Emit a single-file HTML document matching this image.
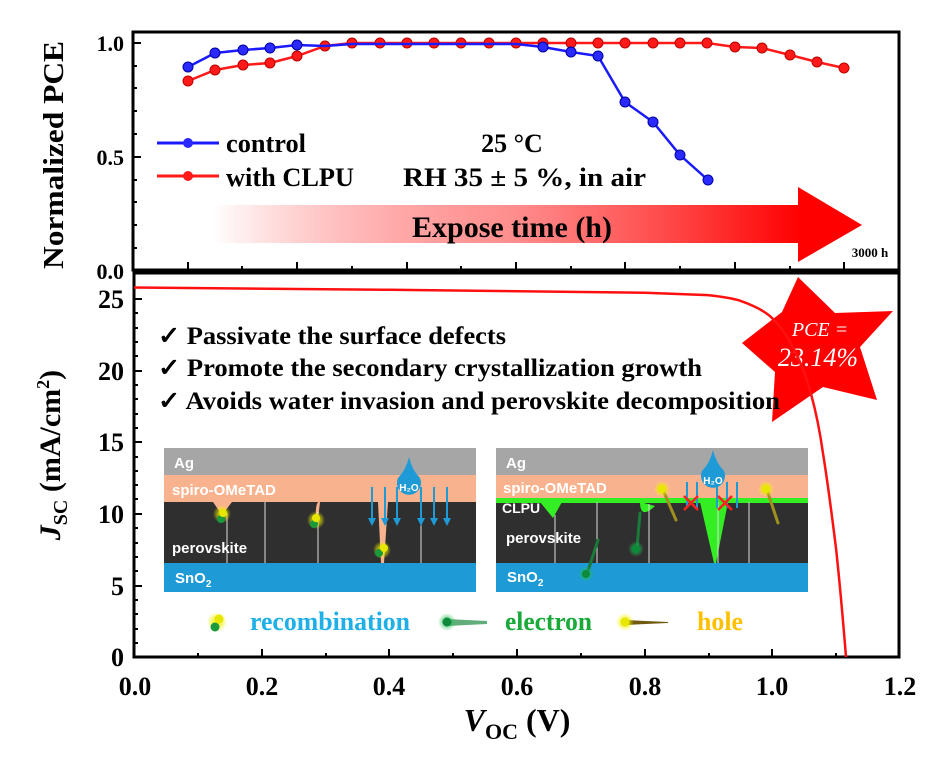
<!DOCTYPE html>
<html><head><meta charset="utf-8"><style>
html,body{margin:0;padding:0;background:#fff;}
svg{display:block;}
text{font-family:"Liberation Serif",serif;font-weight:bold;}
.s{font-family:"Liberation Sans","DejaVu Sans",sans-serif;font-weight:bold;fill:#fff;}
</style></head><body>
<svg width="941" height="771" viewBox="0 0 941 771" xmlns="http://www.w3.org/2000/svg">
<defs>
<linearGradient id="ag" x1="0" x2="1" y1="0" y2="0">
<stop offset="0" stop-color="#ff0000" stop-opacity="0"/>
<stop offset="0.5" stop-color="#ff6060" stop-opacity="0.7"/>
<stop offset="1" stop-color="#ff0000"/>
</linearGradient>
<radialGradient id="yg"><stop offset="0" stop-color="#ffff00"/><stop offset="0.5" stop-color="#eeee00" stop-opacity="0.6"/><stop offset="1" stop-color="#ffff00" stop-opacity="0"/></radialGradient>
<radialGradient id="gg"><stop offset="0" stop-color="#0a8a3a"/><stop offset="0.5" stop-color="#20c050" stop-opacity="0.5"/><stop offset="1" stop-color="#20c050" stop-opacity="0"/></radialGradient>
</defs>

<!-- TOP PANEL -->
<rect x="133" y="32" width="766" height="238" fill="none" stroke="#000" stroke-width="3"/>
<g stroke="#000" stroke-width="2">
<line x1="133" y1="43" x2="141" y2="43"/><line x1="133" y1="157" x2="141" y2="157"/>
<line x1="133" y1="66" x2="137" y2="66"/><line x1="133" y1="88" x2="137" y2="88"/><line x1="133" y1="111" x2="137" y2="111"/><line x1="133" y1="134" x2="137" y2="134"/>
<line x1="133" y1="180" x2="137" y2="180"/><line x1="133" y1="202" x2="137" y2="202"/><line x1="133" y1="225" x2="137" y2="225"/><line x1="133" y1="248" x2="137" y2="248"/>
<line x1="188" y1="270" x2="188" y2="262"/><line x1="297" y1="270" x2="297" y2="262"/><line x1="407" y1="270" x2="407" y2="262"/><line x1="516" y1="270" x2="516" y2="262"/><line x1="625" y1="270" x2="625" y2="262"/><line x1="735" y1="270" x2="735" y2="262"/><line x1="844" y1="270" x2="844" y2="262"/>
<line x1="242" y1="270" x2="242" y2="266"/><line x1="352" y1="270" x2="352" y2="266"/><line x1="461" y1="270" x2="461" y2="266"/><line x1="571" y1="270" x2="571" y2="266"/><line x1="680" y1="270" x2="680" y2="266"/><line x1="790" y1="270" x2="790" y2="266"/>
</g>
<text x="124" y="51" font-size="22" text-anchor="end">1.0</text>
<text x="124" y="165" font-size="22" text-anchor="end">0.5</text>
<text x="124" y="279" font-size="22" text-anchor="end">0.0</text>
<text transform="translate(63,155) rotate(-90)" font-size="28" text-anchor="middle" textLength="228" lengthAdjust="spacingAndGlyphs">Normalized PCE</text>

<!-- arrow -->
<rect x="212" y="205" width="588" height="38" fill="url(#ag)"/>
<polygon points="798,187 862,225 798,262" fill="#ff0000"/>
<text x="512" y="237" font-size="30" text-anchor="middle">Expose time (h)</text>
<text x="870" y="257" font-size="13" text-anchor="middle">3000 h</text>

<!-- data -->
<polyline fill="none" stroke="#ff1a1a" stroke-width="2.5" points="188,81 215,70 243,65 270,63 297,56 325,46 352,43 380,43 407,43 434,43 461,43 489,43 516,43 543,43 571,43 598,43 625,43 653,43 680,43 707,43 735,47 762,48 790,55 817,62 844,68"/>
<g fill="#ff1a1a" stroke="#b00" stroke-width="1">
<circle cx="188" cy="81" r="5"/><circle cx="215" cy="70" r="5"/><circle cx="243" cy="65" r="5"/><circle cx="270" cy="63" r="5"/><circle cx="297" cy="56" r="5"/><circle cx="325" cy="46" r="5"/><circle cx="352" cy="43" r="5"/><circle cx="380" cy="43" r="5"/><circle cx="407" cy="43" r="5"/><circle cx="434" cy="43" r="5"/><circle cx="461" cy="43" r="5"/><circle cx="489" cy="43" r="5"/><circle cx="516" cy="43" r="5"/><circle cx="543" cy="43" r="5"/><circle cx="571" cy="43" r="5"/><circle cx="598" cy="43" r="5"/><circle cx="625" cy="43" r="5"/><circle cx="653" cy="43" r="5"/><circle cx="680" cy="43" r="5"/><circle cx="707" cy="43" r="5"/><circle cx="735" cy="47" r="5"/><circle cx="762" cy="48" r="5"/><circle cx="790" cy="55" r="5"/><circle cx="817" cy="62" r="5"/><circle cx="844" cy="68" r="5"/>
</g>
<polyline fill="none" stroke="#1a1aff" stroke-width="2.5" points="188,67 215,53 243,50 270,48 297,45 325,46 352,44 380,44 407,44 434,44 461,44 489,44 516,44 543,47 571,52 598,56 625,102 653,122 680,155 708,180"/>
<g fill="#2a2aff" stroke="#0000a0" stroke-width="1">
<circle cx="188" cy="67" r="5"/><circle cx="215" cy="53" r="5"/><circle cx="243" cy="50" r="5"/><circle cx="270" cy="48" r="5"/><circle cx="297" cy="45" r="5"/><circle cx="543" cy="47" r="5"/><circle cx="571" cy="52" r="5"/><circle cx="598" cy="56" r="5"/><circle cx="625" cy="102" r="5"/><circle cx="653" cy="122" r="5"/><circle cx="680" cy="155" r="5"/><circle cx="708" cy="180" r="5"/>
</g>
<!-- legend -->
<line x1="157" y1="143" x2="219" y2="143" stroke="#1a1aff" stroke-width="3"/><circle cx="188" cy="143" r="5" fill="#2a2aff"/>
<line x1="157" y1="176" x2="219" y2="176" stroke="#ff1a1a" stroke-width="3"/><circle cx="188" cy="176" r="5" fill="#ff1a1a"/>
<text x="226" y="152" font-size="26" textLength="80" lengthAdjust="spacingAndGlyphs">control</text>
<text x="226" y="186" font-size="26" textLength="128" lengthAdjust="spacingAndGlyphs">with CLPU</text>
<text x="512" y="152" font-size="26" text-anchor="middle">25 °C</text>
<text x="403" y="186" font-size="26" textLength="243" lengthAdjust="spacingAndGlyphs">RH 35 ± 5 %, in air</text>

<!-- BOTTOM PANEL -->
<rect x="134" y="273" width="765" height="384" fill="none" stroke="#000" stroke-width="3"/>
<g stroke="#000" stroke-width="2">
<line x1="134" y1="299" x2="142" y2="299"/><line x1="134" y1="371" x2="142" y2="371"/><line x1="134" y1="442" x2="142" y2="442"/><line x1="134" y1="514" x2="142" y2="514"/><line x1="134" y1="586" x2="142" y2="586"/>
<line x1="134" y1="328" x2="138" y2="328"/><line x1="134" y1="342" x2="138" y2="342"/><line x1="134" y1="356" x2="138" y2="356"/><line x1="134" y1="385" x2="138" y2="385"/><line x1="134" y1="399" x2="138" y2="399"/><line x1="134" y1="414" x2="138" y2="414"/><line x1="134" y1="428" x2="138" y2="428"/><line x1="134" y1="457" x2="138" y2="457"/><line x1="134" y1="471" x2="138" y2="471"/><line x1="134" y1="485" x2="138" y2="485"/><line x1="134" y1="499" x2="138" y2="499"/><line x1="134" y1="528" x2="138" y2="528"/><line x1="134" y1="543" x2="138" y2="543"/><line x1="134" y1="557" x2="138" y2="557"/><line x1="134" y1="571" x2="138" y2="571"/><line x1="134" y1="600" x2="138" y2="600"/><line x1="134" y1="614" x2="138" y2="614"/><line x1="134" y1="629" x2="138" y2="629"/><line x1="134" y1="643" x2="138" y2="643"/><line x1="134" y1="313" x2="138" y2="313"/>
<line x1="262" y1="657" x2="262" y2="649"/><line x1="389" y1="657" x2="389" y2="649"/><line x1="517" y1="657" x2="517" y2="649"/><line x1="645" y1="657" x2="645" y2="649"/><line x1="772" y1="657" x2="772" y2="649"/>
<line x1="198" y1="657" x2="198" y2="653"/><line x1="326" y1="657" x2="326" y2="653"/><line x1="453" y1="657" x2="453" y2="653"/><line x1="581" y1="657" x2="581" y2="653"/><line x1="709" y1="657" x2="709" y2="653"/><line x1="836" y1="657" x2="836" y2="653"/>
</g>
<g font-size="26" text-anchor="end">
<text x="124" y="308">25</text><text x="124" y="380">20</text><text x="124" y="451">15</text><text x="124" y="523">10</text><text x="124" y="595">5</text><text x="124" y="666">0</text>
</g>
<g font-size="26" text-anchor="middle">
<text x="135" y="695">0.0</text><text x="262" y="695">0.2</text><text x="389" y="695">0.4</text><text x="517" y="695">0.6</text><text x="645" y="695">0.8</text><text x="772" y="695">1.0</text><text x="900" y="695">1.2</text>
</g>
<text x="517" y="731" font-size="32" text-anchor="middle"><tspan font-style="italic">V</tspan><tspan font-size="22" dy="8">OC</tspan><tspan dy="-8"> (V)</tspan></text>
<text transform="translate(60,455) rotate(-90)" font-size="30" text-anchor="middle"><tspan font-style="italic">J</tspan><tspan font-size="20" dy="7">SC</tspan><tspan dy="-7"> (mA/cm</tspan><tspan font-size="18" dy="-11">2</tspan><tspan dy="11">)</tspan></text>

<!-- star -->
<polygon points="798,277 835,313 893,311 860,347 877,400 823,387 772,422 775,372 742,343 782,312" fill="#ff0000"/>
<text x="820" y="336" font-size="20" fill="#fff" font-style="italic" text-anchor="middle" style="font-weight:normal">PCE =</text>
<text x="818" y="366" font-size="26" fill="#fff" font-style="italic" text-anchor="middle" style="font-weight:normal">23.14%</text>

<!-- JV curve -->
<path d="M134,287.5 L389,289.8 L645,292.7 L708,295.1 C725,297 735,299 740,300.7 C755,306 765,311 772,318 C780,326 786,334 791,343.4 C800,360 806,376 811,393.8 C816,412 820,432 823,453.4 C828,484 832,516 836,548.2 C840,585 843,620 846,657" fill="none" stroke="#ff1010" stroke-width="2.5"/>

<!-- check lines -->
<g font-size="25">
<text x="158" y="344" textLength="348" lengthAdjust="spacingAndGlyphs">✓ Passivate the surface defects</text>
<text x="158" y="376" textLength="544" lengthAdjust="spacingAndGlyphs">✓ Promote the secondary crystallization growth</text>
<text x="158" y="409" textLength="622" lengthAdjust="spacingAndGlyphs">✓ Avoids water invasion and perovskite decomposition</text>
</g>

<!-- left schematic -->
<rect x="164" y="448" width="312" height="27" fill="#a6a6a6"/>
<rect x="164" y="475" width="312" height="28" fill="#f8b38e"/>
<rect x="164" y="502" width="312" height="61" fill="#2f2f2f"/>
<rect x="164" y="563" width="312" height="29" fill="#1e9ad6"/>
<path d="M213,502 L222,515 L232,502 Z" fill="#f8b38e"/>
<path d="M318,502 Q315,506 316,520 L318,520 L320,502 Z" fill="#f8b38e"/>
<path d="M378,502 L381,563 L384,563 L388,502 Z" fill="#f8b38e"/>
<g stroke="#ddd" stroke-width="1" fill="none">
<line x1="227" y1="513" x2="227" y2="563"/><line x1="265" y1="502" x2="265" y2="563"/><line x1="318" y1="512" x2="318" y2="563"/><line x1="421" y1="502" x2="421" y2="563"/>
</g>
<text x="174" y="468" font-size="15" class="s">Ag</text>
<text x="172" y="495" font-size="15" class="s">spiro-OMeTAD</text>
<text x="172" y="553" font-size="15" class="s">perovskite</text>
<text x="175" y="583" font-size="15" class="s">SnO<tspan font-size="10" dy="4">2</tspan></text>
<g stroke="#1e9ad6" stroke-width="2" fill="#1e9ad6">
<line x1="372" y1="487" x2="372" y2="520"/><line x1="385" y1="487" x2="385" y2="520"/><line x1="397" y1="487" x2="397" y2="520"/><line x1="421" y1="487" x2="421" y2="520"/><line x1="434" y1="487" x2="434" y2="520"/><line x1="447" y1="487" x2="447" y2="520"/>
</g>
<g fill="#1e9ad6">
<polygon points="368,518 376,518 372,526"/><polygon points="381,518 389,518 385,526"/><polygon points="393,518 401,518 397,526"/><polygon points="417,518 425,518 421,526"/><polygon points="430,518 438,518 434,526"/><polygon points="443,518 451,518 447,526"/>
<path d="M409,457 Q412,470 420,478 A12,12 0 1 1 398,478 Q406,470 409,457 Z"/>
</g>
<text x="409" y="491" font-size="10" class="s" text-anchor="middle">H₂O</text>
<g>
<circle cx="222" cy="514" r="9" fill="url(#yg)"/><circle cx="221" cy="519" r="4" fill="#1a9a3a"/><circle cx="223" cy="513" r="4" fill="#e6e600"/>
<circle cx="316" cy="520" r="9" fill="url(#yg)"/><circle cx="314" cy="524" r="4" fill="#1a9a3a"/><circle cx="316" cy="518" r="4" fill="#e6e600"/>
<circle cx="382" cy="550" r="9" fill="url(#yg)"/><circle cx="379" cy="553" r="4" fill="#1a9a3a"/><circle cx="384" cy="548" r="4" fill="#e6e600"/>
</g>

<!-- right schematic -->
<rect x="496" y="448" width="312" height="27" fill="#a6a6a6"/>
<rect x="496" y="475" width="312" height="25" fill="#f8b38e"/>
<rect x="496" y="502" width="312" height="61" fill="#2f2f2f"/>
<rect x="496" y="498" width="312" height="5" fill="#33ee22"/>
<path d="M540,502 L553,518 L562,502 Z" fill="#33ee22"/>
<path d="M640,502 Q640,520 655,506 L640,502 Z" fill="#33ee22"/>
<path d="M700,502 L714,563 L716,563 L728,502 Z" fill="#33ee22"/>
<rect x="496" y="563" width="312" height="29" fill="#1e9ad6"/>
<g stroke="#ddd" stroke-width="1" fill="none">
<line x1="555" y1="515" x2="555" y2="563"/><line x1="597" y1="502" x2="597" y2="563"/><line x1="649" y1="504" x2="649" y2="563"/><line x1="718" y1="502" x2="718" y2="563"/><line x1="749" y1="502" x2="749" y2="563"/>
</g>
<text x="506" y="468" font-size="15" class="s">Ag</text>
<text x="503" y="493" font-size="15" class="s">spiro-OMeTAD</text>
<text x="502" y="513" font-size="14" class="s">CLPU</text>
<text x="506" y="543" font-size="15" class="s">perovskite</text>
<text x="507" y="582" font-size="15" class="s">SnO<tspan font-size="10" dy="4">2</tspan></text>
<g stroke="#1e9ad6" stroke-width="2">
<line x1="687" y1="482" x2="687" y2="508"/><line x1="697" y1="482" x2="697" y2="508"/><line x1="717" y1="482" x2="717" y2="508"/><line x1="727" y1="482" x2="727" y2="508"/><line x1="737" y1="482" x2="737" y2="508"/>
</g>
<g fill="#1e9ad6">
<path d="M713,450 Q716,463 724,471 A12,12 0 1 1 702,471 Q710,463 713,450 Z"/>
</g>
<text x="713" y="484" font-size="10" class="s" text-anchor="middle">H₂O</text>
<g stroke="#ff2020" stroke-width="2.5">
<line x1="684" y1="496" x2="698" y2="510"/><line x1="698" y1="496" x2="684" y2="510"/>
<line x1="718" y1="496" x2="732" y2="510"/><line x1="732" y1="496" x2="718" y2="510"/>
</g>
<g stroke-width="3" stroke-linecap="round">
<line x1="663" y1="490" x2="676" y2="520" stroke="#a09020"/>
<line x1="767" y1="490" x2="778" y2="523" stroke="#a09020"/>
<line x1="587" y1="574" x2="598" y2="540" stroke="#1a7a3a"/>
<line x1="637" y1="548" x2="640" y2="513" stroke="#1a7a3a"/>
</g>
<circle cx="662" cy="489" r="8" fill="url(#yg)"/><circle cx="662" cy="489" r="4" fill="#e6e600"/>
<circle cx="766" cy="489" r="8" fill="url(#yg)"/><circle cx="766" cy="489" r="4" fill="#e6e600"/>
<circle cx="586" cy="574" r="8" fill="url(#gg)"/><circle cx="586" cy="574" r="4" fill="#0d8a3a"/>
<circle cx="636" cy="549" r="8" fill="url(#gg)"/><circle cx="636" cy="549" r="4" fill="#0d8a3a"/>

<!-- bottom legend -->
<circle cx="217" cy="622" r="10" fill="url(#yg)"/><circle cx="215" cy="627" r="4.5" fill="#1a9a3a"/><circle cx="219" cy="619" r="4.5" fill="#e6e600"/>
<text x="250" y="630" font-size="26" fill="#1fb0e8" textLength="160" lengthAdjust="spacingAndGlyphs">recombination</text>
<path d="M447,619 L487,621 L487,624 L447,626 Z" fill="#3a9a5a" opacity="0.8"/>
<circle cx="447" cy="622" r="9" fill="url(#gg)"/><circle cx="447" cy="622" r="4.5" fill="#0d8a3a"/>
<text x="505" y="630" font-size="26" fill="#1aaa3a" textLength="87" lengthAdjust="spacingAndGlyphs">electron</text>
<path d="M625,620 L668,622 L668,623 L625,625 Z" fill="#705a10"/>
<circle cx="625" cy="622" r="9" fill="url(#yg)"/><circle cx="625" cy="622" r="4.5" fill="#e6e600"/>
<text x="697" y="630" font-size="26" fill="#ffc000" textLength="46" lengthAdjust="spacingAndGlyphs">hole</text>
</svg>
</body></html>
